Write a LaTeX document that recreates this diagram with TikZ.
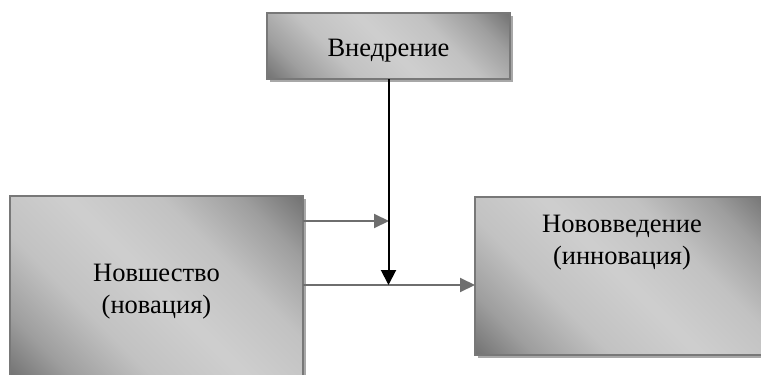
\documentclass[tikz,border=0pt]{standalone}
\usepackage{fontspec}
\setmainfont{Liberation Serif}
\usetikzlibrary{arrows.meta,shadows}
\definecolor{boxdark}{gray}{0.40}
\definecolor{boxmid}{gray}{0.62}
\definecolor{boxsoft}{gray}{0.76}
\definecolor{boxlight}{gray}{0.81}
\definecolor{edgegray}{gray}{0.47}
\definecolor{shadowgray}{gray}{0.66}
\definecolor{arrowgray}{gray}{0.43}
\pgfdeclareverticalshading{boxshade}{100bp}{color(0bp)=(boxdark); color(12bp)=(boxdark); color(24bp)=(boxmid); color(36bp)=(boxsoft); color(50bp)=(boxlight); color(64bp)=(boxsoft); color(76bp)=(boxmid); color(88bp)=(boxdark); color(100bp)=(boxdark)}
\begin{document}
\begin{tikzpicture}[x=1pt,y=1pt,
  gbox/.style={draw=edgegray, line width=2pt, shading=boxshade, shading angle=-45,
    inner sep=0pt, outer sep=0pt,
    drop shadow={shadow xshift=3pt, shadow yshift=-3pt, fill=shadowgray, opacity=1},
    font=\fontsize{26.5}{32.5}\selectfont},
  garrow/.style={draw=arrowgray, line width=2pt, -{Triangle[length=15pt,width=14pt]}},
  barrow/.style={draw=black, line width=2pt, -{Triangle[length=15pt,width=15pt]}}]
\useasboundingbox (0,0) rectangle (761,-375);
\node[gbox, minimum width=243pt, minimum height=66pt] (top) at (388.5,-46)
  {\raisebox{-10pt}[0pt][0pt]{Внедрение}};
\node[gbox, minimum width=293pt, minimum height=182pt] (left) at (156.5,-287)
  {\raisebox{6pt}[0pt][0pt]{\begin{tabular}[t]{@{}c@{}}Новшество\\(новация)\end{tabular}}};
\node[gbox, minimum width=294pt, minimum height=158pt] (right) at (622,-276)
  {\raisebox{44pt}[0pt][0pt]{\begin{tabular}[t]{@{}c@{}}Нововведение\\(инновация)\end{tabular}}};
\coordinate (upj) at (389,-221);
\coordinate (mid) at (389,-285);
\draw[garrow] (left.east |- upj) -- (upj);
\draw[garrow] (left.east |- mid) -- (right.west |- mid);
\draw[barrow] (top.south) -- (top.south |- mid);
\end{tikzpicture}
\end{document}
